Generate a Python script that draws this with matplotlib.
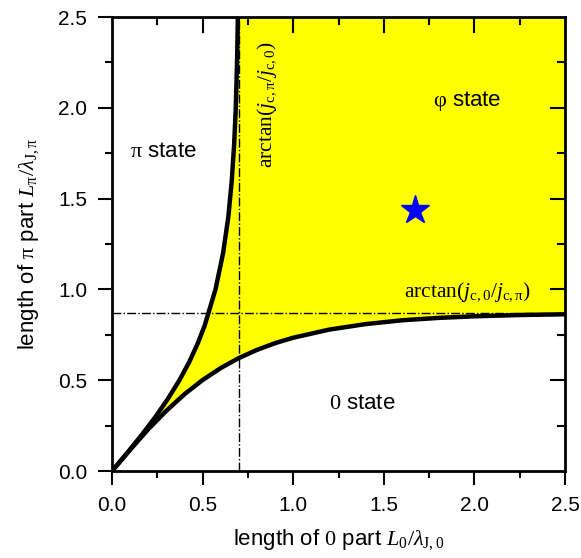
import matplotlib
matplotlib.use("Agg")
import matplotlib.pyplot as plt
import numpy as np

plt.rcParams['font.family'] = ['Liberation Sans', 'DejaVu Sans']
plt.rcParams['mathtext.fontset'] = 'custom'
plt.rcParams['mathtext.rm'] = 'Liberation Serif'
plt.rcParams['mathtext.it'] = 'Liberation Serif:italic'
plt.rcParams['mathtext.sf'] = 'Liberation Sans'

# boundary 0 state / phi state  (L_0 -> L_pi)
low_L0 = [0, 0.1, 0.2, 0.3, 0.4, 0.5, 0.6, 0.7, 0.8, 0.9, 1.0, 1.2, 1.4, 1.6, 1.8, 2.0, 2.25, 2.5]
low_Lpi = [0, 0.117, 0.230, 0.332, 0.423, 0.501, 0.567, 0.622, 0.667, 0.704, 0.734, 0.779,
           0.809, 0.830, 0.843, 0.852, 0.859, 0.863]

# boundary pi state / phi state  (L_pi -> L_0)
up_Lpi = [0, 0.1, 0.2, 0.3, 0.4, 0.5, 0.6, 0.7, 0.8, 1.0, 1.2, 1.4, 1.6, 1.8, 2.0, 2.25, 2.5]
up_L0 = [0, 0.084, 0.165, 0.241, 0.310, 0.372, 0.426, 0.472, 0.511, 0.571, 0.613, 0.642,
         0.661, 0.674, 0.683, 0.690, 0.6945]

asym_pi = 0.87   # arctan(jc0/jcpi)
asym_0 = 0.70    # arctan(jcpi/jc0)
star = (1.67, 1.44)

fig = plt.figure(figsize=(5.81, 5.58), dpi=100)
ax = fig.add_axes([0.1928, 0.1559, 0.7797, 0.8136])

# yellow phi-state region
fx = list(up_L0) + [2.5, 2.5] + list(low_L0[::-1])
fy = list(up_Lpi) + [2.5, low_Lpi[-1]] + list(low_Lpi[::-1])
ax.fill(fx, fy, color='#ffff00', lw=0, zorder=1)

ax.plot([0, 2.5], [asym_pi, asym_pi], color='black', ls='-.', lw=1, zorder=2)
ax.plot([asym_0, asym_0], [0, 2.5], color='black', ls='-.', lw=1, zorder=2)

ax.plot(low_L0, low_Lpi, color='black', lw=3.2, zorder=3, solid_capstyle='butt')
ax.plot(up_L0, up_Lpi, color='black', lw=3.2, zorder=3, solid_capstyle='butt')

ax.plot(*star, marker='*', color='blue', markersize=21, zorder=4)

ax.text(0.10, 1.76, r'$\mathrm{\pi}$ state', fontsize=16, va='center', ha='left')
ax.text(1.77, 2.04, r'$\mathrm{\varphi}$ state', fontsize=16, va='center', ha='left')
ax.text(1.20, 0.37, r'$\mathrm{0}$ state', fontsize=16, va='center', ha='left')
ax.text(0.855, 2.02, r'$\mathrm{arctan}(j_{\mathrm{c},\mathrm{\pi}}/j_{\mathrm{c,0}})$',
        fontsize=15.5, rotation=90, va='center', ha='center')
ax.text(1.96, 0.985, r'$\mathrm{arctan}(j_{\mathrm{c,0}}/j_{\mathrm{c},\mathrm{\pi}})$',
        fontsize=15.5, va='center', ha='center')

ax.set_xlim(0, 2.5)
ax.set_ylim(0, 2.5)
ax.set_xticks(np.arange(0, 2.51, 0.5))
ax.set_yticks(np.arange(0, 2.51, 0.5))
ax.set_xticks(np.arange(0.25, 2.5, 0.5), minor=True)
ax.set_yticks(np.arange(0.25, 2.5, 0.5), minor=True)
ax.xaxis.set_major_formatter(matplotlib.ticker.FormatStrFormatter('%.1f'))
ax.yaxis.set_major_formatter(matplotlib.ticker.FormatStrFormatter('%.1f'))
ax.tick_params(which='both', direction='out', width=1.5, labelsize=15, top=False, right=False)
ax.tick_params(which='major', length=10, pad=8)
ax.tick_params(which='minor', length=5)
for s in ax.spines.values():
    s.set_linewidth(2)

# inward ticks on top and right
for pos in [0.5, 1.0, 1.5, 2.0]:
    ax.plot([pos, pos], [2.5, 2.5 - 0.08], color='black', lw=1.5, zorder=5)
    ax.plot([2.5, 2.5 - 0.075], [pos, pos], color='black', lw=1.5, zorder=5)
for pos in [0.25, 0.75, 1.25, 1.75, 2.25]:
    ax.plot([pos, pos], [2.5, 2.5 - 0.04], color='black', lw=1.5, zorder=5)
    ax.plot([2.5, 2.5 - 0.04], [pos, pos], color='black', lw=1.5, zorder=5)

ax.set_xlabel(r'length of $\mathrm{0}$ part $L_{\mathrm{0}}/\lambda_{\mathrm{J,0}}$', fontsize=16, labelpad=9)
ax.set_ylabel(r'length of $\mathrm{\pi}$ part $L_{\mathrm{\pi}}/\lambda_{\mathrm{J},\mathrm{\pi}}$', fontsize=16, labelpad=12)

fig.savefig('out.png', dpi=100)
